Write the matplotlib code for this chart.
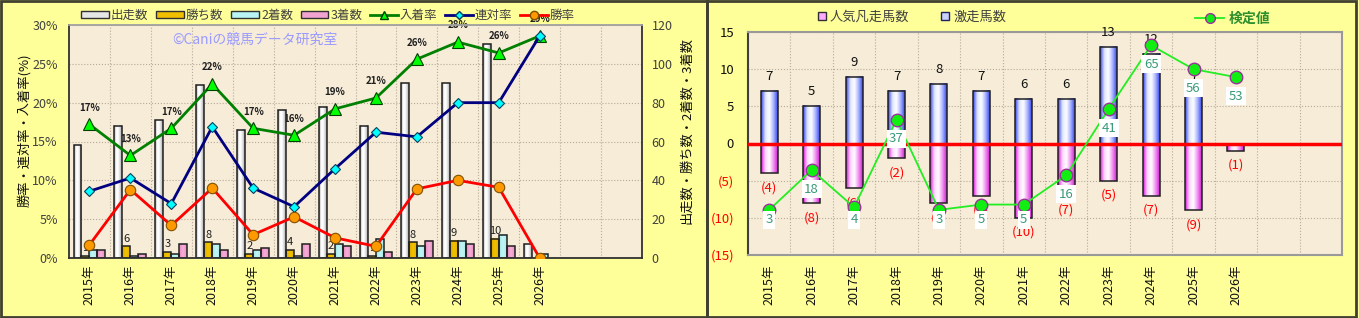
import numpy as np
import matplotlib.pyplot as plt
from matplotlib.patches import Rectangle, Patch
from matplotlib.lines import Line2D
from matplotlib.colors import LinearSegmentedColormap

plt.rcParams['font.family'] = ['Noto Sans CJK JP', 'DejaVu Sans']

# -------------------------------- data --------------------------------
YEARS = ["2015年", "2016年", "2017年", "2018年", "2019年", "2020年",
         "2021年", "2022年", "2023年", "2024年", "2025年", "2026年"]
N_SLOTS = 14  # two empty category slots at the right

RUNS = [58, 68, 71, 89, 66, 76, 78, 68, 90, 90, 110, 7]
WINS = [1, 6, 3, 8, 2, 4, 2, 1, 8, 9, 10, 0]
SECONDS = [4, 1, 2, 7, 4, 1, 7, 10, 6, 9, 12, 2]
THIRDS = [4, 2, 7, 4, 5, 7, 6, 3, 9, 7, 6, 0]

WIN_RATE = [1.7, 8.8, 4.2, 9.0, 3.0, 5.3, 2.6, 1.5, 8.9, 10.0, 9.1, 0.0]
QUINELLA_RATE = [8.6, 10.3, 7.0, 16.9, 9.0, 6.6, 11.5, 16.2, 15.6, 20.0, 20.0, 28.6]
PLACE_RATE = [17.2, 13.2, 16.7, 22.4, 16.7, 15.8, 19.2, 20.6, 25.6, 27.8, 26.4, 28.6]

GEKISOU = [7, 5, 9, 7, 8, 7, 6, 6, 13, 12, 7, 0]      # 激走馬数
BONSOU = [4, 8, 6, 2, 8, 7, 10, 7, 5, 7, 9, 1]        # 人気凡走馬数 (shown negative)
KENTEI = [3, 18, 4, 37, 3, 5, 5, 16, 41, 65, 56, 53]  # 検定値
# ----------------------------------------------------------------------

W, H = 1359, 318
FIG_BG = "#ffff99"
PLOT_BG = "#f7ecd8"
GRID = dict(color="#b5ab98", linestyle=":", linewidth=0.8)


def grad_bar(ax, x, h, width, colors, bottom=0.0, z=2):
    if h == 0:
        return
    cmap = LinearSegmentedColormap.from_list("g", colors)
    grad = np.linspace(0, 1, 64).reshape(1, -1)
    ax.imshow(grad, cmap=cmap, extent=[x - width / 2, x + width / 2, bottom, bottom + h],
              aspect="auto", zorder=z, interpolation="bicubic")
    ax.add_patch(Rectangle((x - width / 2, bottom), width, h, fill=False,
                           edgecolor="#202020", lw=1.1, zorder=z + 0.1))


fig = plt.figure(figsize=(W / 100, H / 100), dpi=100)
fig.patch.set_facecolor(FIG_BG)
split = 707 / W
fig.add_artist(Rectangle((0.001, 0.003), split - 0.001, 0.994, transform=fig.transFigure,
                         fill=False, edgecolor="#404030", lw=2))
fig.add_artist(Rectangle((split, 0.003), 0.998 - split, 0.994, transform=fig.transFigure,
                         fill=False, edgecolor="#404030", lw=2))

# ============================ left panel ============================
ax_bar = fig.add_axes([69 / W, 60 / H, 573 / W, 233 / H])
ax_bar.set_facecolor(PLOT_BG)
ax_line = ax_bar.twinx()
x = np.arange(len(YEARS))
bw = 0.195
offs = np.array([-1.5, -0.5, 0.5, 1.5]) * bw

for i in range(len(YEARS)):
    grad_bar(ax_bar, x[i] + offs[0], RUNS[i], bw,
             ["#8e8e8e", "#ffffff", "#ffffff", "#dadada", "#a0a0a0"])
    grad_bar(ax_bar, x[i] + offs[1], WINS[i], bw, ["#d9a800", "#f2c200", "#e0b000"])
    grad_bar(ax_bar, x[i] + offs[2], SECONDS[i], bw, ["#9ee6e6", "#c4f6f6", "#a6eaea"])
    grad_bar(ax_bar, x[i] + offs[3], THIRDS[i], bw, ["#e888c0", "#f6b0d8", "#ea90c4"])
    if WINS[i]:
        ax_bar.annotate(str(WINS[i]), xy=(x[i] + offs[1], WINS[i]), xytext=(0, 2),
                        textcoords="offset points", ha="center", va="bottom",
                        fontsize=8, color="#202020", zorder=1.5)
    ax_bar.annotate(f"{PLACE_RATE[i]:.0f}%", xy=(x[i], PLACE_RATE[i]),
                    xycoords=ax_line.transData, xytext=(0, 12),
                    textcoords="offset points", ha="center", va="center",
                    fontsize=7, fontweight="bold", color="#202020", zorder=1.5)

ax_line.plot(x, PLACE_RATE, color="#008000", lw=2, marker="^", ms=9,
             mfc="#00ff00", mec="#004000", mew=0.8, zorder=5)
ax_line.plot(x, QUINELLA_RATE, color="#000080", lw=2, marker="D", ms=5.5,
             mfc="#00ffff", mec="#004060", mew=0.8, zorder=6)
ax_line.plot(x, WIN_RATE, color="#ff0000", lw=2, marker="o", ms=7.5,
             mfc="#ff9900", mec="#805000", mew=0.8, zorder=7)

ax_bar.set_xlim(-0.5, N_SLOTS - 0.5)
ax_bar.set_ylim(0, 120)
ax_line.set_ylim(0, 30)
ax_bar.set_xticks(x)
ax_bar.set_xticklabels(YEARS, rotation=90, fontsize=9, color="#101010")
ax_bar.set_xticks(np.arange(0.5, N_SLOTS - 0.5, 1), minor=True)
ax_bar.tick_params(axis="x", which="both", length=0, pad=5)
ax_bar.set_axisbelow(True)
ax_bar.grid(axis="x", which="minor", **GRID)
ax_bar.grid(axis="y", which="major", **GRID)
ax_bar.yaxis.tick_right()
ax_bar.set_yticks(np.arange(0, 121, 20))
ax_bar.tick_params(axis="y", length=0, pad=7, labelsize=9, labelcolor="#404040")
ax_line.yaxis.tick_left()
ax_line.set_yticks(np.arange(0, 31, 5))
ax_line.set_yticklabels([f"{v}%" for v in range(0, 31, 5)])
ax_line.tick_params(axis="y", length=0, pad=8, labelsize=9, labelcolor="#404040")
for s in ax_line.spines.values():
    s.set_visible(False)
for name, s in ax_bar.spines.items():
    s.set_color("#303030" if name != "top" else "#a0a0a0")
    s.set_linewidth(1.3)

ax_bar.text(0.325, 0.936, "©Caniの競馬データ研究室", transform=ax_bar.transAxes,
            ha="center", va="center", fontsize=10, color="#9a9aff", zorder=1)

fig.text(24 / W, 1 - 130 / H, "勝率・連対率・入着率(%)", rotation=90,
         ha="center", va="center", fontsize=9.5, color="#101010")
fig.text(687 / W, 1 - 130 / H, "出走数・勝ち数・2着数・3着数", rotation=90,
         ha="center", va="center", fontsize=9.5, color="#101010")

left_handles = [
    Patch(facecolor="#e6e6e6", edgecolor="#303030", label="出走数"),
    Patch(facecolor="#f0c000", edgecolor="#303030", label="勝ち数"),
    Patch(facecolor="#b8f4f4", edgecolor="#303030", label="2着数"),
    Patch(facecolor="#f2a4d0", edgecolor="#303030", label="3着数"),
    Line2D([], [], color="#008000", lw=2, marker="^", ms=6, mfc="#00ff00", mec="#004000", label="入着率"),
    Line2D([], [], color="#000080", lw=2, marker="D", ms=4, mfc="#00ffff", mec="#004060", label="連対率"),
    Line2D([], [], color="#ff0000", lw=2, marker="o", ms=6, mfc="#ff9900", mec="#805000", label="勝率"),
]
leg = fig.legend(handles=left_handles, loc="center left", bbox_to_anchor=(81 / W, 1 - 15 / H),
                 ncol=7, frameon=False, fontsize=9, handlelength=2.2, handleheight=0.5,
                 handletextpad=0.2, columnspacing=0.6, borderpad=0, borderaxespad=0)
for t in leg.get_texts():
    t.set_color("#404040")

# ============================ right panel ============================
ax_r = fig.add_axes([748 / W, 63 / H, 594 / W, 223 / H])
ax_r.set_facecolor(PLOT_BG)
rw = 0.4
for i in range(len(YEARS)):
    grad_bar(ax_r, x[i], GEKISOU[i], rw,
             ["#3444ee", "#dfe4ff", "#ffffff", "#a8b2ff", "#3848ee"])
    grad_bar(ax_r, x[i], -BONSOU[i], rw,
             ["#d818d8", "#ffd4ff", "#ffffff", "#f290f2", "#d020d0"])
    if GEKISOU[i]:
        ax_r.annotate(str(GEKISOU[i]), xy=(x[i], GEKISOU[i]), xytext=(0, 10.5),
                      textcoords="offset points", ha="center", va="center",
                      fontsize=9.5, color="#101010")
    if BONSOU[i]:
        ax_r.annotate(f"({BONSOU[i]})", xy=(x[i], -BONSOU[i]), xytext=(0, -10.5),
                      textcoords="offset points", ha="center", va="center",
                      fontsize=9.5, color="#ff0000")
ax_r.axhline(0, color="#ff0000", lw=2.5, zorder=4)

ax_r.set_xlim(-0.5, N_SLOTS - 0.5)
ax_r.set_ylim(-15, 15)
ax_r.set_xticks(x)
ax_r.set_xticklabels(YEARS, rotation=90, fontsize=9, color="#101010")
ax_r.set_xticks(np.arange(0.5, N_SLOTS - 0.5, 1), minor=True)
ax_r.tick_params(axis="x", which="both", length=0, pad=7)
ax_r.set_yticks([-15, -10, -5, 0, 5, 10, 15])
ax_r.set_yticklabels(["(15)", "(10)", "(5)", "0", "5", "10", "15"])
ax_r.tick_params(axis="y", length=0, pad=10, labelsize=9.5)
for lab, v in zip(ax_r.get_yticklabels(), [-15, -10, -5, 0, 5, 10, 15]):
    lab.set_color("#ff0000" if v < 0 else "#101010")
ax_r.set_axisbelow(True)
ax_r.grid(axis="x", which="minor", **GRID)
ax_r.grid(axis="y", which="major", **GRID)
for name, s in ax_r.spines.items():
    s.set_color("#404040" if name == "left" else "#999999")
    s.set_linewidth(1.5)

ax_k = ax_r.twinx()
ax_k.set_ylim(-14, 70)
ax_k.set_yticks([])
for s in ax_k.spines.values():
    s.set_visible(False)
ax_k.plot(x, KENTEI, color="#22ee22", lw=1.3, marker="o", ms=9,
          mfc="#11ee11", mec="#993399", mew=1, zorder=5)
for i, v in enumerate(KENTEI):
    ax_k.text(x[i], max(v - 7.2, -0.8), str(v), ha="center", va="center",
              fontsize=9.5, color="#3a9a78", zorder=6,
              bbox=dict(facecolor="white", edgecolor="none", pad=1.8))

r_handles = [
    Line2D([], [], lw=0, marker="s", ms=5.5, mfc="#ffaaff", mec="#303030", label="人気凡走馬数"),
    Line2D([], [], lw=0, marker="s", ms=5.5, mfc="#c8d0ff", mec="#202060", label="激走馬数"),
]
leg_r = fig.legend(handles=r_handles, loc="center left", bbox_to_anchor=(817 / W, 1 - 17 / H),
                   ncol=2, frameon=False, fontsize=9.5, handlelength=0.7,
                   handletextpad=0.25, columnspacing=2.4, borderpad=0, borderaxespad=0)
for t in leg_r.get_texts():
    t.set_color("#404040")

k_handle = [Line2D([], [], color="#22ee22", lw=1.3, marker="o", ms=7,
                   mfc="#11ee11", mec="#993399", label="検定値")]
leg_k = fig.legend(handles=k_handle, loc="center left", bbox_to_anchor=(1195 / W, 1 - 19 / H),
                   frameon=False, fontsize=10, handlelength=2.1, handletextpad=0.3,
                   borderpad=0, borderaxespad=0)
for t in leg_k.get_texts():
    t.set_color("#2d8f2d")
    t.set_fontweight("bold")

fig.savefig("out.png", dpi=100, facecolor=FIG_BG)
